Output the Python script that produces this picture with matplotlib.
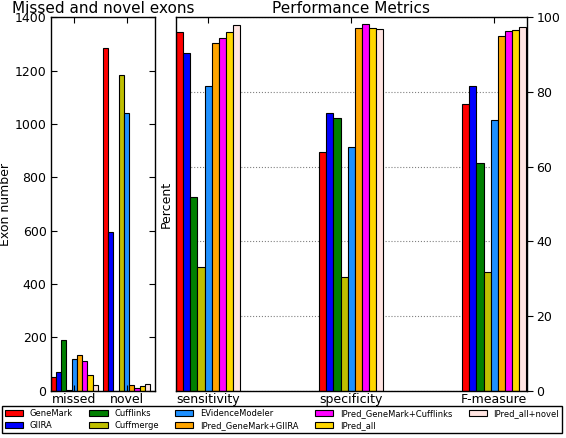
import numpy as np
import matplotlib
matplotlib.use('Agg')
import matplotlib.pyplot as plt

# nombres de los programas y colores
tools_names = ['GeneMark', 'GIIRA', 'Cufflinks', 'Cuffmerge', 'EVidenceModeler',
               'IPred_GeneMark+GIIRA', 'IPred_GeneMark+Cufflinks', 'IPred_all',
               'IPred_all+novel']
colors = ['#ff0000', '#0000ff', '#008000', '#bfbf00', '#1e90ff',
          '#ffa500', '#ff00ff', '#ffd700', '#ffe4e1']

# exones perdidos y nuevos
exon_groups = ['missed', 'novel']
missed = [50, 69, 189, 4, 118, 133, 113, 59, 23]
novel = [1286, 595, 0, 1184, 1040, 21, 9, 19, 26]

# metricas de rendimiento (porcentaje)
metric_groups = ['sensitivity', 'specificity', 'F-measure']
sensitivity = [96.1, 90.5, 51.9, 33.2, 81.7, 93.0, 94.5, 96.0, 98.0]
specificity = [63.8, 74.5, 73.1, 30.4, 65.3, 97.1, 98.1, 97.2, 96.8]
f_measure = [76.7, 81.7, 60.9, 31.8, 72.6, 95.0, 96.2, 96.6, 97.5]

plt.rcParams['font.family'] = 'DejaVu Sans'
plt.rcParams['font.size'] = 9

fig = plt.figure(figsize=(5.66, 4.38), dpi=100)
ax1 = fig.add_axes([50.7/566, 47.3/438, 104.6/566, 373.4/438])
ax2 = fig.add_axes([176/566, 47.3/438, 350.5/566, 373.4/438])

# grafica izquierda
w1 = 0.1
ind1 = np.arange(len(exon_groups))
exon_data = np.array([missed, novel]).T
bars = []
for i in range(len(tools_names)):
    b = ax1.bar(ind1 + i*w1, exon_data[i], w1, align='edge', color=colors[i],
                edgecolor='black', linewidth=0.8, label=tools_names[i])
    bars.append(b)
ax1.set_xlim(0, 2)
ax1.set_ylim(0, 1400)
ax1.set_yticks(range(0, 1401, 200))
ax1.set_xticks(ind1 + 0.45)
ax1.set_xticklabels(exon_groups)
ax1.tick_params(direction='in', length=4, top=True, right=True, pad=3)
ax1.tick_params(axis='x', pad=2)
ax1.set_ylabel('Exon number', labelpad=2)
ax1.set_title('Missed and novel exons', fontsize=11, pad=3)

# grafica derecha
w2 = 0.05
ind2 = np.arange(len(metric_groups))
metric_data = np.array([sensitivity, specificity, f_measure]).T
for i in range(len(tools_names)):
    ax2.bar(ind2 + i*w2, metric_data[i], w2, align='edge', color=colors[i],
            edgecolor='black', linewidth=0.8, zorder=2)
ax2.set_xlim(0, 2.45)
ax2.set_ylim(0, 100)
ax2.set_yticks(range(0, 101, 20))
ax2.set_xticks(ind2 + 0.225)
ax2.set_xticklabels(metric_groups)
ax2.yaxis.tick_right()
ax2.tick_params(axis='y', direction='out', length=4, pad=3)
ax2.tick_params(axis='x', direction='in', length=4, top=True, pad=2)
ax2.yaxis.grid(True, linestyle=':', color='gray', linewidth=0.8, zorder=0)
ax2.set_axisbelow(True)
ax2.set_ylabel('Percent', labelpad=2)
ax2.yaxis.set_label_position('left')
ax2.set_title('Performance Metrics', fontsize=11, pad=3)

for ax in (ax1, ax2):
    for s in ax.spines.values():
        s.set_linewidth(1.0)

leg = fig.legend(bars, tools_names, loc='center', ncol=5,
                 bbox_to_anchor=(282/566, 1 - 419.5/438), fontsize=6.0,
                 fancybox=False, edgecolor='black', framealpha=1,
                 handlelength=2.2, handleheight=0.7, columnspacing=1.95,
                 borderpad=0.35, labelspacing=0.4)
leg.get_frame().set_linewidth(1.0)

fig.savefig('out.png', dpi=100)
